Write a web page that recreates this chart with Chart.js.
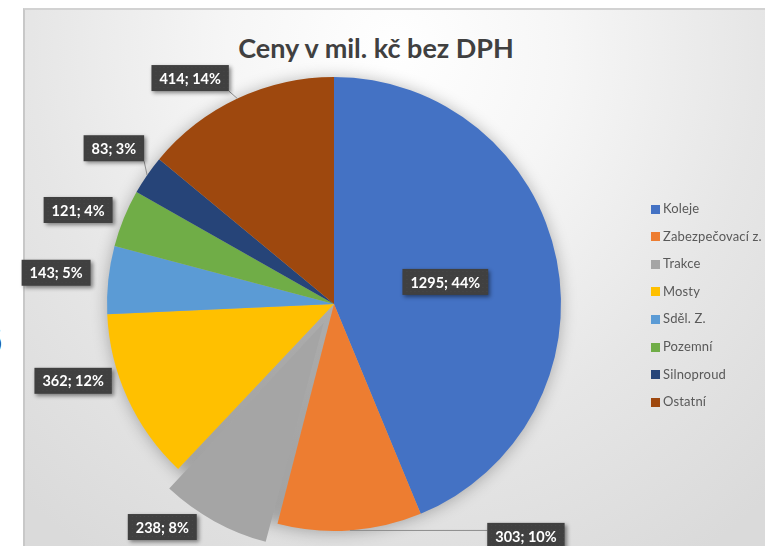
<!DOCTYPE html>
<html>
<head>
<meta charset="utf-8">
<script src="https://cdn.jsdelivr.net/npm/chart.js@4/dist/chart.umd.min.js"></script>
<style>
html,body{margin:0;padding:0;background:#fff;width:765px;height:546px;overflow:hidden;position:relative;font-family:Lato,"Liberation Sans",sans-serif}
#frame{position:absolute;left:23px;top:8px;width:780px;height:580px;border-left:2px solid #c8c8c8;border-top:2px solid #d2d2d2;
 background:radial-gradient(ellipse 560px 600px at 370px 40px,#ffffff 0%,#f6f6f6 30%,#e6e6e6 65%,#dadada 100%);}
#edge{position:absolute;left:-21px;top:316px;font:bold 42px "Liberation Sans",sans-serif;color:#1f3f6e}
#title{position:absolute;left:0;top:31px;width:752px;text-align:center;font:bold 27px Lato,"Liberation Sans",sans-serif;color:#404040;white-space:nowrap}
#c{position:absolute;left:0;top:0}
#legend{position:absolute;left:651px;top:0;margin:0;padding:0;list-style:none}
#legend li{position:absolute;left:0;height:16px;line-height:16px;white-space:nowrap;font:13px Lato,"Liberation Sans",sans-serif;color:#595959;letter-spacing:0.15px}
#legend li span{display:inline-block;width:9px;height:9px;margin-right:3px;vertical-align:-0.5px}
</style>
</head>
<body>
<div id="frame"></div>
<div id="edge">6</div>
<div id="title">Ceny v mil. kč bez DPH</div>
<canvas id="c" width="765" height="546"></canvas>
<ul id="legend"></ul>
<script>
// ---- data ----
const categories = ["Koleje", "Zabezpečovací z.", "Trakce", "Mosty", "Sděl. Z.", "Pozemní", "Silnoproud", "Ostatní"];
const values = [1295, 303, 238, 362, 143, 121, 83, 414];
const colors = ["#4472C4", "#ED7D31", "#A5A5A5", "#FFC000", "#5B9BD5", "#70AD47", "#264478", "#9E480E"];
const explode = [0, 0, 84, 0, 0, 0, 0, 0];
// label layout: radius factor, angle shift (deg) from slice middle, leader line
const labelRadius = [0.50, 1.326, 1.24, 1.198, 1.232, 1.201, 1.188, 1.18];
const labelShift = [0, -35.6, 8.7, 8.2, 0.3, -2, 0.7, -7.3];
const labelLeader = [false, true, false, false, false, false, true, true];

// legend
const legendEl = document.getElementById('legend');
categories.forEach((name, i) => {
  const li = document.createElement('li');
  li.style.top = (200 + i * 27.6) + 'px';
  const sw = document.createElement('span');
  sw.style.background = colors[i];
  li.appendChild(sw);
  li.appendChild(document.createTextNode(name));
  legendEl.appendChild(li);
});

const total = values.reduce((a, b) => a + b, 0);

const fixOffsetPlugin = {
  id: 'fixOffset',
  afterDatasetsUpdate(chart) {
    const meta = chart.getDatasetMeta(0);
    meta.data.forEach((arc, i) => {
      const off = (explode[i] || 0) / 4;
      if (off) {
        const circ = arc.endAngle - arc.startAngle;
        const fix = 1 - Math.sin(Math.min(Math.PI, circ));
        arc.outerRadius = meta.controller.outerRadius - off * fix;
      }
    });
  }
};

const shadowPlugin = {
  id: 'pieShadow',
  beforeDatasetsDraw(chart) {
    const meta = chart.getDatasetMeta(0);
    const arc = meta.data[0];
    const R = meta.controller.outerRadius;
    const ctx = chart.ctx;
    ctx.save();
    ctx.shadowColor = 'rgba(0,0,0,0.28)';
    ctx.shadowBlur = 16;
    ctx.shadowOffsetX = 2000;
    ctx.shadowOffsetY = 1;
    ctx.beginPath();
    ctx.arc(arc.x - 2000, arc.y, R, 0, Math.PI * 2);
    ctx.fillStyle = '#000';
    ctx.fill();
    ctx.restore();
  }
};

const labelPlugin = {
  id: 'sliceLabels',
  afterDatasetsDraw(chart) {
    const ctx = chart.ctx;
    const meta = chart.getDatasetMeta(0);
    const R = meta.controller.outerRadius;
    meta.data.forEach((arc, i) => {
      const mid = (arc.startAngle + arc.endAngle) / 2;
      const ang = mid + labelShift[i] * Math.PI / 180;
      const cx = arc.x + labelRadius[i] * R * Math.cos(ang);
      const cy = arc.y + labelRadius[i] * R * Math.sin(ang);
      const pct = Math.round(values[i] / total * 100);
      const text = values[i] + '; ' + pct + '%';
      ctx.save();
      ctx.font = 'bold 14.5px Lato, "Liberation Sans", sans-serif';
      const tw = ctx.measureText(text).width;
      const w = tw + 16, h = 26;
      const x0 = cx - w / 2, y0 = cy - h / 2;
      if (labelLeader[i]) {
        const px = arc.x + R * Math.cos(mid);
        const py = arc.y + R * Math.sin(mid);
        const qx = Math.max(x0, Math.min(px, x0 + w));
        const qy = Math.max(y0, Math.min(py, y0 + h));
        ctx.strokeStyle = '#8c8c8c';
        ctx.lineWidth = 1;
        ctx.beginPath();
        ctx.moveTo(px, py);
        ctx.lineTo(qx, qy);
        ctx.stroke();
      }
      ctx.shadowColor = 'rgba(0,0,0,0.45)';
      ctx.shadowBlur = 4;
      ctx.shadowOffsetX = 2;
      ctx.shadowOffsetY = 2;
      ctx.fillStyle = '#404040';
      ctx.fillRect(x0, y0, w, h);
      ctx.shadowColor = 'transparent';
      // subtle texture
      ctx.fillStyle = 'rgba(255,255,255,0.05)';
      for (let yy = y0 + 2; yy < y0 + h - 1; yy += 4) {
        for (let xx = x0 + 2 + ((yy - y0) % 8 ? 2 : 0); xx < x0 + w - 1; xx += 4) {
          ctx.fillRect(xx, yy, 1, 1);
        }
      }
      ctx.fillStyle = '#ffffff';
      ctx.textAlign = 'center';
      ctx.textBaseline = 'middle';
      ctx.fillText(text, cx, cy + 1);
      ctx.restore();
    });
  }
};

new Chart(document.getElementById('c'), {
  type: 'pie',
  data: {
    labels: categories,
    datasets: [{
      data: values,
      backgroundColor: colors,
      borderWidth: 0,
      offset: explode,
      hoverOffset: 0
    }]
  },
  options: {
    responsive: false,
    animation: false,
    radius: 227,
    layout: { padding: { left: 0, right: 97, top: 62, bottom: 0 } },
    plugins: {
      legend: { display: false },
      title: { display: false },
      tooltip: { enabled: false }
    },
    events: []
  },
  plugins: [fixOffsetPlugin, shadowPlugin, labelPlugin]
});
</script>
</body>
</html>
